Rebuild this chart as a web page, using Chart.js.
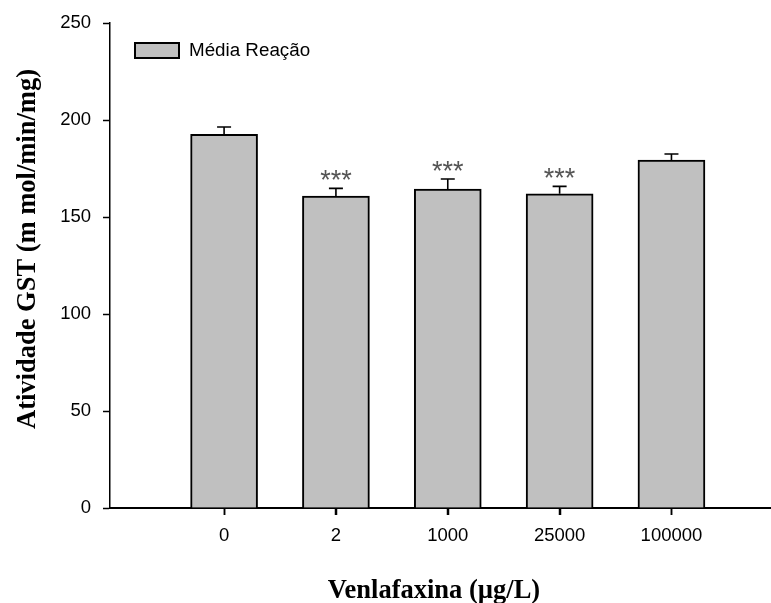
<!DOCTYPE html>
<html>
<head>
<meta charset="utf-8">
<script src="https://cdn.jsdelivr.net/npm/chart.js@4.4.1/dist/chart.umd.min.js"></script>
<style>
  html, body { margin: 0; padding: 0; background: #fff; }
  #wrap { width: 771px; height: 603px; }
</style>
</head>
<body>
<div id="wrap"><canvas id="gstChart"></canvas></div>
<script>
// values
const categories = ["0", "2", "1000", "25000", "100000"];
const means = [192.6, 160.8, 164.4, 162.0, 179.4];
const errors = [3.8, 4.0, 5.2, 3.8, 3.1];
const stars = ["", "***", "***", "***", ""];
const yTicks = [0, 50, 100, 150, 200, 250];
const seriesLabel = "Média Reação";
const xTitle = "Venlafaxina (µg/L)";
const yTitle = "Atividade GST (m mol/min/mg)";

const barGray = "#c0c0c0";
const sansFont = "'Liberation Sans', Arial, sans-serif";
const serifFont = "'Liberation Serif', 'Times New Roman', serif";

const errorBars = {
  id: "errorBars",
  afterDatasetsDraw(chart) {
    const ctx = chart.ctx;
    const meta = chart.getDatasetMeta(0);
    const y = chart.scales.y;
    ctx.save();
    meta.data.forEach((bar, i) => {
      const top = y.getPixelForValue(means[i] + errors[i]);
      const base = y.getPixelForValue(means[i]);
      ctx.strokeStyle = "#000";
      ctx.lineWidth = 1.6;
      ctx.beginPath();
      ctx.moveTo(bar.x, base);
      ctx.lineTo(bar.x, top);
      ctx.moveTo(bar.x - 7, top);
      ctx.lineTo(bar.x + 7, top);
      ctx.stroke();
      if (stars[i]) {
        ctx.fillStyle = "#555";
        ctx.font = "27px " + sansFont;
        ctx.textAlign = "center";
        ctx.textBaseline = "alphabetic";
        ctx.fillText(stars[i], bar.x, top + 1);
      }
    });
    ctx.restore();
  },
};

const legendAndTitles = {
  id: "legendAndTitles",
  afterDraw(chart) {
    const ctx = chart.ctx;
    const x = chart.scales.x;
    ctx.save();
    // x tick marks
    ctx.strokeStyle = "#000";
    ctx.lineWidth = 1.5;
    ctx.beginPath();
    x.ticks.forEach((t) => {
      const px = Math.round(x.getPixelForValue(t.value)) + 0.5;
      ctx.moveTo(px, x.top);
      ctx.lineTo(px, x.top + 7);
    });
    ctx.stroke();

    // legend box
    ctx.fillStyle = barGray;
    ctx.fillRect(135, 43, 44, 15);
    ctx.lineWidth = 2;
    ctx.strokeRect(135, 43, 44, 15);
    ctx.fillStyle = "#000";
    ctx.font = "18.8px " + sansFont;
    ctx.textAlign = "left";
    ctx.textBaseline = "middle";
    ctx.fillText(seriesLabel, 189, 51);

    // axis titles
    ctx.font = "bold 26.5px " + serifFont;
    ctx.textAlign = "center";
    ctx.textBaseline = "alphabetic";
    ctx.fillText(xTitle, 434, 598);
    ctx.textBaseline = "middle";
    ctx.translate(28, 249);
    ctx.rotate(-Math.PI / 2);
    ctx.fillText(yTitle, 0, 0);
    ctx.restore();
  },
};

new Chart(document.getElementById("gstChart"), {
  type: "bar",
  data: {
    datasets: [
      {
        label: seriesLabel,
        data: categories.map((c, i) => ({ x: i + 1, y: means[i] })),
        backgroundColor: barGray,
        borderColor: "#000",
        borderWidth: 2,
        borderSkipped: "bottom",
        barThickness: 67,
      },
    ],
  },
  options: {
    responsive: true,
    maintainAspectRatio: false,
    animation: false,
    layout: { padding: { top: 22, right: 0, left: 0, bottom: 0 } },
    plugins: { legend: { display: false }, tooltip: { enabled: false } },
    scales: {
      x: {
        type: "linear",
        offset: false,
        min: -0.02,
        max: 5.89,
        afterBuildTicks: (scale) => {
          scale.ticks = categories.map((c, i) => ({ value: i + 1 }));
        },
        afterFit: (scale) => {
          scale.height = 95;
        },
        ticks: {
          autoSkip: false,
          maxRotation: 0,
          padding: 10,
          color: "#000",
          font: { family: sansFont, size: 18.5 },
          callback: (v) => categories[v - 1],
        },
        grid: {
          offset: false,
          drawOnChartArea: false,
          tickLength: 7,
          tickColor: "#000",
          tickWidth: 1.5,
        },
        border: { color: "#000", width: 2 },
      },
      y: {
        min: 0,
        max: 250,
        afterBuildTicks: (scale) => {
          scale.ticks = yTicks.map((v) => ({ value: v }));
        },
        afterFit: (scale) => {
          scale.width = 110;
        },
        ticks: {
          padding: 12,
          color: "#000",
          font: { family: sansFont, size: 18.5 },
        },
        grid: {
          drawOnChartArea: false,
          tickLength: 7,
          tickColor: "#000",
          tickWidth: 1.5,
        },
        border: { color: "#000", width: 1.5 },
      },
    },
  },
  plugins: [errorBars, legendAndTitles],
});
</script>
</body>
</html>
